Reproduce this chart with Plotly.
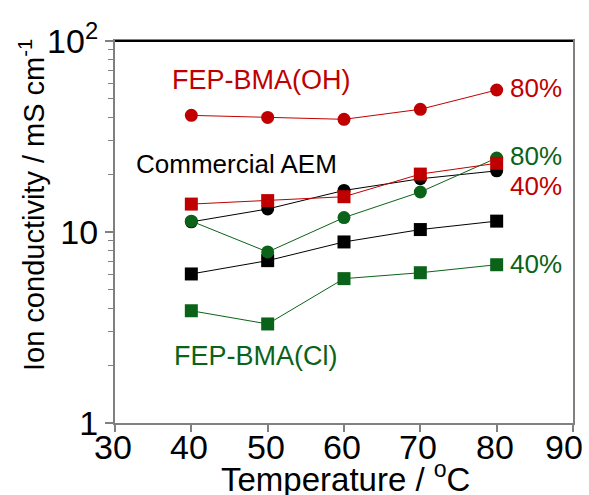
import plotly.graph_objects as go

temps = [40, 50, 60, 70, 80]

oh_80 = [40.8, 39.8, 38.9, 43.9, 55.4]
oh_40 = [14.0, 14.6, 15.3, 20.1, 22.9]
aem_80 = [11.3, 13.2, 16.5, 19.0, 20.9]
aem_40 = [6.03, 7.08, 8.87, 10.3, 11.4]
cl_80 = [11.4, 7.86, 11.9, 16.2, 24.4]
cl_40 = [3.87, 3.30, 5.70, 6.12, 6.74]

x_ticks = [30, 40, 50, 60, 70, 80, 90]
y_ticks = [1, 10, 100]
y_tick_text = ["1", "10", "10<sup>2</sup>"]
y_minor = [2, 3, 4, 5, 6, 7, 8, 9, 20, 30, 40, 50, 60, 70, 80, 90]

RED = "#C00000"
GREEN = "#0A6318"
BLACK = "#000000"
AXC = "#808080"
FONT = "Liberation Sans, Arial, sans-serif"

W, H = 589, 495
L, R, T, B = 115, 573, 41, 423   # plot-area edges in pixels

fig = go.Figure()


def add(y, color, symbol):
    fig.add_trace(go.Scatter(
        x=temps, y=y, mode="lines+markers",
        line=dict(color=color, width=1),
        marker=dict(color=color, symbol=symbol, size=13, line=dict(width=0)),
        showlegend=False, cliponaxis=False))


# Series drawn back to front
add(aem_40, BLACK, "square")
add(cl_40, GREEN, "square")
add(aem_80, BLACK, "circle")
add(cl_80, GREEN, "circle")
add(oh_40, RED, "square")
add(oh_80, RED, "circle")


def px(xp):
    return (xp - L) / (R - L)


def py(yp):
    return (B - yp) / (B - T)


def label(x, y, text, color, size, anchor="center", angle=0):
    fig.add_annotation(x=px(x), y=py(y), xref="paper", yref="paper", text=text,
                       showarrow=False, xanchor=anchor, yanchor="middle",
                       textangle=angle,
                       font=dict(family=FONT, size=size, color=color))


label(261, 80, "FEP-BMA(OH)", RED, 27)
label(236, 164, "Commercial AEM", BLACK, 26)
label(256, 356, "FEP-BMA(Cl)", GREEN, 27)
label(508, 88, "80%", RED, 26, "left")
label(508, 156, "80%", GREEN, 26, "left")
label(508, 186, "40%", RED, 26, "left")
label(508, 264, "40%", GREEN, 26, "left")

# axis titles
label(345, 477, "Temperature / <sup>o</sup>C", BLACK, 33)
label(32, 205, "Ion conductivity / mS cm<sup>-1</sup>", BLACK, 29, angle=-90)

# x tick labels, placed under each tick; the last one is pulled inside the page
for i, v in enumerate(x_ticks):
    last = i == len(x_ticks) - 1
    fig.add_annotation(x=v, y=py(447), xref="x", yref="paper", text=str(v),
                       showarrow=False, xanchor="right" if last else "center",
                       xshift=12 if last else -2, yanchor="middle",
                       font=dict(family=FONT, size=34, color="black"))

fig.update_xaxes(
    range=[30, 90], tickvals=x_ticks, showticklabels=False,
    showline=True, linecolor=AXC, linewidth=2, mirror=True,
    ticks="outside", ticklen=7, tickcolor=AXC, tickwidth=2,
    showgrid=False, zeroline=False, automargin=False)
fig.update_yaxes(
    type="log", range=[0, 2],
    tickvals=y_ticks, ticktext=y_tick_text,
    showline=True, linecolor=AXC, linewidth=2, mirror=True,
    ticks="outside", ticklen=8, tickcolor=AXC, tickwidth=2,
    minor=dict(ticks="outside", ticklen=5, tickcolor=AXC, tickwidth=1,
               tickvals=y_minor),
    showgrid=False, zeroline=False, automargin=False,
    tickfont=dict(family=FONT, size=34, color="black"))

# dark top border line
fig.add_shape(type="line", xref="paper", yref="paper", x0=0, x1=1, y0=1, y1=1,
              line=dict(color="black", width=2))

fig.update_layout(
    width=W, height=H,
    margin=dict(l=L, r=W - R, t=T, b=H - B),
    plot_bgcolor="white", paper_bgcolor="white",
    font=dict(family=FONT))

fig.write_html("out.html")
